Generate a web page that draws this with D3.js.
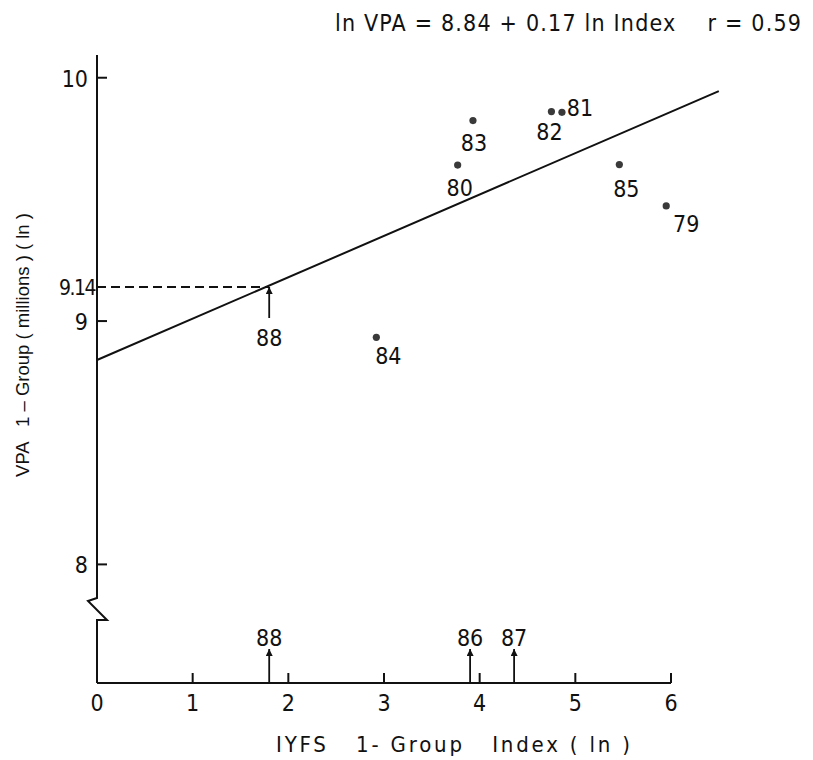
<!DOCTYPE html>
<html>
<head>
<meta charset="utf-8">
<script src="https://cdn.jsdelivr.net/npm/d3@7/dist/d3.min.js"></script>
<style>
  html, body { margin: 0; padding: 0; background: #fff; }
  svg text { fill: #111; }
</style>
</head>
<body>
<svg id="chart" width="813" height="760"></svg>
<script>
// Year-class observations: IYFS 1-group index (ln) against VPA 1-group (ln)
const years      = ["79", "80", "81", "82", "83", "84", "85"];
const indexLn    = [5.95, 3.77, 4.86, 4.75, 3.93, 2.92, 5.46];
const vpaLn      = [9.473, 9.641, 9.858, 9.861, 9.824, 8.933, 9.643];

// Year classes with a survey index only (arrows on the x axis)
const arrowYears = ["88", "86", "87"];
const arrowIndex = [1.80, 3.90, 4.36];

// Regression: ln VPA = a + b ln Index
const intercept = 8.84;
const slope     = 0.17;
const rValue    = 0.59;

// Prediction for the 1988 year class
const predYear  = "88";
const predIndex = 1.80;
const predVpa   = 9.14;

const xTicks = [0, 1, 2, 3, 4, 5, 6];
const yTicks = [8, 9, 10];

const svg = d3.select("#chart");
const FONT = "'DejaVu Sans Condensed', 'DejaVu Sans', sans-serif";

const x = d3.scaleLinear().domain([0, 6]).range([97, 671]);
const y = d3.scaleLinear().domain([8.84, 9.14]).range([360, 287]);

const axisY0 = 683;     // baseline of the x axis
const stroke = "#111";

// ---- x axis ----
svg.append("line")
  .attr("x1", x(0)).attr("x2", x(6))
  .attr("y1", axisY0).attr("y2", axisY0)
  .attr("stroke", stroke).attr("stroke-width", 2);
const xt = svg.append("g");
xt.selectAll("line").data(xTicks).join("line")
  .attr("x1", d => x(d)).attr("x2", d => x(d))
  .attr("y1", axisY0).attr("y2", axisY0 - 10)
  .attr("stroke", stroke).attr("stroke-width", 2);
xt.selectAll("text").data(xTicks).join("text")
  .attr("x", d => x(d)).attr("y", axisY0 + 28)
  .attr("text-anchor", "middle")
  .attr("font-family", FONT).attr("font-size", 23)
  .text(d => d);

svg.append("text")
  .attr("x", 276).attr("y", 752)
  .attr("font-family", FONT).attr("font-size", 22)
  .attr("xml:space", "preserve")
  .attr("textLength", 354).attr("lengthAdjust", "spacing")
  .text("IYFS   1- Group   Index ( ln )");

// ---- y axis with a break below 8 ----
const breakTop = 598, breakBot = 620;
const yPath = d3.path();
yPath.moveTo(x(0), 55);
yPath.lineTo(x(0), breakTop);
yPath.lineTo(x(0) - 9, breakTop + 3);
yPath.lineTo(x(0) + 10, breakBot);
yPath.lineTo(x(0), breakBot);
yPath.lineTo(x(0), axisY0);
svg.append("path").attr("d", yPath.toString())
  .attr("fill", "none").attr("stroke", stroke).attr("stroke-width", 2)
  .attr("stroke-linejoin", "miter");

const yt = svg.append("g");
yt.selectAll("line").data(yTicks).join("line")
  .attr("x1", x(0)).attr("x2", x(0) + 10)
  .attr("y1", d => y(d)).attr("y2", d => y(d))
  .attr("stroke", stroke).attr("stroke-width", 2);
yt.selectAll("text").data(yTicks).join("text")
  .attr("x", x(0) - 9).attr("y", d => y(d) + 9)
  .attr("text-anchor", "end")
  .attr("font-family", FONT).attr("font-size", 23)
  .text(d => d);

svg.append("text")
  .attr("transform", "translate(29,345) rotate(-90)")
  .attr("text-anchor", "middle")
  .attr("font-family", "'Liberation Sans', Arial, sans-serif")
  .attr("font-size", 18.5)
  .attr("xml:space", "preserve")
  .text("VPA   1 – Group ( millions ) ( ln )");

// ---- regression line ----
const xEnd = 6.5;
svg.append("line")
  .attr("x1", x(0)).attr("y1", y(intercept))
  .attr("x2", x(xEnd)).attr("y2", y(intercept + slope * xEnd))
  .attr("stroke", stroke).attr("stroke-width", 2);

// ---- prediction for 1988 ----
svg.append("line")
  .attr("x1", x(0)).attr("x2", x(predIndex))
  .attr("y1", y(predVpa)).attr("y2", y(predVpa))
  .attr("stroke", stroke).attr("stroke-width", 1.8)
  .attr("stroke-dasharray", "9,5");
svg.append("text")
  .attr("x", x(0) - 2).attr("y", y(predVpa) + 8)
  .attr("text-anchor", "end")
  .attr("font-family", FONT).attr("font-size", 21)
  .attr("letter-spacing", -1.5)
  .text(predVpa.toFixed(2));

svg.append("defs").append("marker")
  .attr("id", "ah").attr("viewBox", "0 0 10 10")
  .attr("refX", 10).attr("refY", 5)
  .attr("markerWidth", 11).attr("markerHeight", 7)
  .attr("markerUnits", "userSpaceOnUse")
  .attr("orient", "auto")
  .append("path").attr("d", "M0,0 L10,5 L0,10 Z").attr("fill", stroke);

svg.append("line")
  .attr("x1", x(predIndex)).attr("x2", x(predIndex))
  .attr("y1", y(predVpa) + 31).attr("y2", y(predVpa))
  .attr("stroke", stroke).attr("stroke-width", 1.8)
  .attr("marker-end", "url(#ah)");
svg.append("text")
  .attr("x", x(predIndex)).attr("y", y(predVpa) + 59)
  .attr("text-anchor", "middle")
  .attr("font-family", FONT).attr("font-size", 23)
  .text(predYear);

// ---- observed points ----
const obs = years.map((yr, i) => ({ yr, xi: indexLn[i], yi: vpaLn[i] }));
// label placement relative to each point
const labelOffset = {
  "79": [20, 26], "80": [2, 31], "81": [18, 4], "82": [-2, 28],
  "83": [1, 30], "84": [12, 27], "85": [7, 32]
};
svg.append("g").selectAll("circle").data(obs).join("circle")
  .attr("cx", d => x(d.xi)).attr("cy", d => y(d.yi))
  .attr("r", 3.6).attr("fill", "#3a3a3a");
svg.append("g").selectAll("text").data(obs).join("text")
  .attr("x", d => x(d.xi) + labelOffset[d.yr][0])
  .attr("y", d => y(d.yi) + labelOffset[d.yr][1])
  .attr("text-anchor", "middle")
  .attr("font-family", FONT).attr("font-size", 23)
  .text(d => d.yr);

// ---- index-only year classes ----
const arr = arrowYears.map((yr, i) => ({ yr, xi: arrowIndex[i] }));
const ag = svg.append("g");
ag.selectAll("line").data(arr).join("line")
  .attr("x1", d => x(d.xi)).attr("x2", d => x(d.xi))
  .attr("y1", axisY0).attr("y2", axisY0 - 34)
  .attr("stroke", stroke).attr("stroke-width", 1.8)
  .attr("marker-end", "url(#ah)");
ag.selectAll("text").data(arr).join("text")
  .attr("x", d => x(d.xi)).attr("y", axisY0 - 37)
  .attr("text-anchor", "middle")
  .attr("font-family", FONT).attr("font-size", 23)
  .text(d => d.yr);

// ---- equation ----
svg.append("text")
  .attr("x", 335).attr("y", 31)
  .attr("font-family", FONT).attr("font-size", 23)
  .attr("xml:space", "preserve")
  .attr("textLength", 466).attr("lengthAdjust", "spacing")
  .text(`ln VPA = ${intercept.toFixed(2)} + ${slope.toFixed(2)} ln Index    r = ${rValue.toFixed(2)}`);
</script>
</body>
</html>
